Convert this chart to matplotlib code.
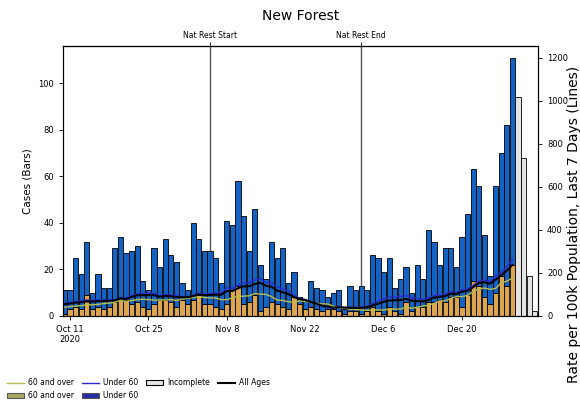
import numpy as np
import pandas as pd
import matplotlib
matplotlib.use('Agg')
import matplotlib.pyplot as plt
import matplotlib.dates as mdates
from matplotlib.patches import Patch
from matplotlib.lines import Line2D

# daily cases, Oct 10 2020 -> Dec 29 2020 (complete days)
over60 = [1,3,4,3,9,3,4,3,4,6, 7,7,5,6,4,3,5,7,7,6, 4,7,5,7,9,5,5,4,3,5,
          11,13,5,6,9,2,4,6,5,4, 3,8,5,3,4,3,2,3,3,2, 1,2,2,1,2,4,2,1,4,2,
          1,6,2,4,4,6,6,7,6,8, 8,4,9,15,13,8,5,10,17,13, 22]
under60 = [10,8,21,15,23,7,14,9,8,23, 27,20,23,24,11,8,24,14,26,20,
           19,7,6,33,24,23,23,21,11,36, 28,45,38,22,37,20,12,26,20,25,
           11,11,3,4,11,9,9,5,7,9, 2,11,9,12,9,22,23,18,21,10,
           15,15,8,18,12,31,26,15,23,21, 13,30,35,48,43,27,12,46,53,69, 89]
# Dec 30 -> Jan 2 (incomplete)
incomplete = [94, 68, 17, 2]

# rate per 100k, last 7 days
rate_all = [55,58,62,64,68,67,69,70,71,73, 82,79,89,96,97,97,97,89,93,92,
            88,87,87,93,100,97,98,99,99,116, 116,129,138,138,149,154,140,136,118,110,
            102,87,79,74,65,58,48,44,39,41, 39,38,37,38,40,49,57,66,72,73,
            74,80,71,69,68,74,86,89,93,104, 103,113,117,134,153,157,150,169,189,211, 237]
rate_under60 = [60,63,67,70,74,73,75,75,75,76, 85,83,95,103,105,105,105,95,100,98,
                94,91,89,96,104,102,104,105,108,132, 128,144,155,155,167,174,155,154,135,125,
                116,96,83,77,65,57,45,40,37,42, 40,40,40,42,45,57,68,80,88,88,
                91,95,85,81,76,84,96,96,102,112, 108,122,125,142,164,167,160,185,203,229, 261]
rate_over60 = [40,44,46,48,52,52,54,58,60,64, 72,68,72,76,78,76,74,74,74,76,
               72,78,82,86,90,86,84,84,76,76, 84,92,92,94,104,102,100,90,74,72,
               66,64,70,68,64,60,56,56,46,40, 36,32,30,28,26,28,28,28,32,32,
               32,40,36,40,46,50,58,70,70,82, 90,90,96,114,126,130,124,128,154,162, 176]

dates = pd.date_range('2020-10-10', periods=len(over60))
inc_dates = pd.date_range('2020-12-30', periods=len(incomplete))
tick_dates = ['2020-10-11', '2020-10-25', '2020-11-08', '2020-11-22', '2020-12-06', '2020-12-20']
tick_labels = ['Oct 11\n2020', 'Oct 25', 'Nov 8', 'Nov 22', 'Dec 6', 'Dec 20']
events = ['2020-11-05', '2020-12-02']
event_labels = ['Nat Rest Start', 'Nat Rest End']

x = mdates.date2num(dates)
xi = mdates.date2num(inc_dates)

fig = plt.figure(figsize=(5.8, 4.07), dpi=100)
ax = fig.add_axes([0.1086, 0.2236, 0.819, 0.6634])

blue = '#1462c4'
orange = '#dca550'

for d in events:
    ax.axvline(mdates.date2num(pd.Timestamp(d)), color='#555555', lw=1, zorder=0)

ax.bar(x, over60, width=0.9, color=orange, edgecolor='black', lw=0.6, zorder=2)
ax.bar(x, under60, width=0.9, bottom=over60, color=blue, edgecolor='black', lw=0.6, zorder=2)
ax.bar(xi, incomplete, width=0.9, color='#e4e4e4', edgecolor='black', lw=0.6, zorder=2)

ax.set_xlim(x[0] - 0.25, xi[-1] + 0.57)
ax.set_ylim(0, 116)
ax.set_yticks([0, 20, 40, 60, 80, 100])
ax.set_xticks(mdates.date2num(pd.to_datetime(tick_dates)))
ax.set_xticklabels(tick_labels, ha='center')
ax.tick_params(labelsize=6, length=3, width=0.6)
ax.set_ylabel('Cases (Bars)', fontsize=7.5)
for s in ax.spines.values():
    s.set_linewidth(0.8)

top = ax.secondary_xaxis('top')
top.set_xticks(mdates.date2num(pd.to_datetime(events)))
top.set_xticklabels(event_labels)
top.tick_params(labelsize=5.5, length=3, width=0.6, pad=1)

ax2 = ax.twinx()
ax2.plot(x, rate_over60, color='#b5bd48', lw=1)
ax2.plot(x, rate_under60, color='#2a2ad0', lw=1)
ax2.plot(x, rate_all, color='black', lw=1.5)
ax2.set_ylim(0, 1255)
ax2.set_yticks([0, 200, 400, 600, 800, 1000, 1200])
ax2.tick_params(labelsize=6, length=3, width=0.6)
ax2.set_ylabel('Rate per 100k Population, Last 7 Days (Lines)', fontsize=10)
ax2.yaxis.set_label_coords(1.062, 0.34)

ax.set_title('New Forest', fontsize=10, pad=19)

handles = [Line2D([], [], color='#b5bd48', lw=1),
           Patch(facecolor='#a9a865', edgecolor='#555555', lw=0.8),
           Line2D([], [], color='#2a2ad0', lw=1),
           Patch(facecolor='#2b2ba8', edgecolor='#555555', lw=0.8),
           Patch(facecolor='#e4e4e4', edgecolor='black', lw=0.8),
           Line2D([], [], color='black', lw=1.5)]
labels = ['60 and over', '60 and over', 'Under 60', 'Under 60', 'Incomplete', 'All Ages']
fig.legend(handles, labels, loc='lower left', bbox_to_anchor=(0.0, 0.0), ncol=4,
           frameon=False, fontsize=5.5, handlelength=2.2, columnspacing=1.0,
           handletextpad=0.6, labelspacing=0.5)

fig.savefig('out.png', dpi=100)
